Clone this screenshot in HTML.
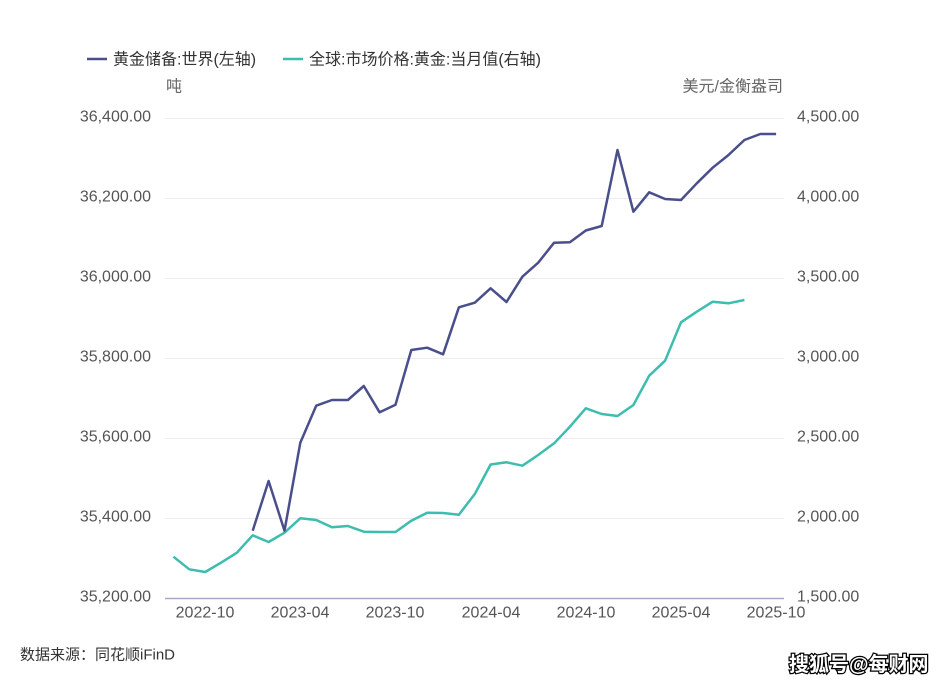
<!DOCTYPE html>
<html><head><meta charset="utf-8"><style>
html,body{margin:0;padding:0;background:#fff;}
svg{display:block;}
text{font-family:"Liberation Sans","Noto Sans CJK SC",sans-serif;}
</style></head><body>
<svg width="939" height="686" viewBox="0 0 939 686" xmlns="http://www.w3.org/2000/svg">
<rect width="939" height="686" fill="#fff"/>
<!-- legend -->
<line x1="87" y1="59" x2="107" y2="59" stroke="#4a4f8c" stroke-width="2.5"/>
<text x="113" y="60" font-size="16" fill="#333" dominant-baseline="central">黄金储备:世界(左轴)</text>
<line x1="283" y1="59" x2="303" y2="59" stroke="#3dbdae" stroke-width="2.5"/>
<text x="309" y="60" font-size="16" fill="#333" dominant-baseline="central">全球:市场价格:黄金:当月值(右轴)</text>
<!-- units -->
<text x="166" y="87" font-size="16" fill="#666" dominant-baseline="central">吨</text>
<text x="783" y="87" font-size="16" fill="#666" text-anchor="end" dominant-baseline="central">美元/金衡盎司</text>
<!-- grid -->
<g stroke="#ebebf0" stroke-width="1">
<line x1="165" y1="118.5" x2="784" y2="118.5"/>
<line x1="165" y1="198.5" x2="784" y2="198.5"/>
<line x1="165" y1="278.5" x2="784" y2="278.5"/>
<line x1="165" y1="358.5" x2="784" y2="358.5"/>
<line x1="165" y1="438.5" x2="784" y2="438.5"/>
<line x1="165" y1="518.5" x2="784" y2="518.5"/>
</g>
<line x1="165" y1="598.5" x2="784" y2="598.5" stroke="#a9a9c6" stroke-width="1.5"/>
<!-- left labels -->
<g font-size="16" fill="#555" text-anchor="end" dominant-baseline="central">
<text x="151" y="117">36,400.00</text>
<text x="151" y="197">36,200.00</text>
<text x="151" y="277">36,000.00</text>
<text x="151" y="357">35,800.00</text>
<text x="151" y="437">35,600.00</text>
<text x="151" y="517">35,400.00</text>
<text x="151" y="597">35,200.00</text>
</g>
<!-- right labels -->
<g font-size="16" fill="#555" dominant-baseline="central">
<text x="797" y="117">4,500.00</text>
<text x="797" y="197">4,000.00</text>
<text x="797" y="277">3,500.00</text>
<text x="797" y="357">3,000.00</text>
<text x="797" y="437">2,500.00</text>
<text x="797" y="517">2,000.00</text>
<text x="797" y="597">1,500.00</text>
</g>
<!-- x labels -->
<g font-size="16" fill="#555" text-anchor="middle" dominant-baseline="central">
<text x="205" y="613">2022-10</text>
<text x="300" y="613">2023-04</text>
<text x="395" y="613">2023-10</text>
<text x="491" y="613">2024-04</text>
<text x="586" y="613">2024-10</text>
<text x="681" y="613">2025-04</text>
<text x="776" y="613">2025-10</text>
</g>
<!-- green series -->
<polyline fill="none" stroke="#3dbdae" stroke-width="2.5" stroke-linejoin="round" points="
173.4,556.7 189.3,569.3 205.2,572 221,562.7 236.9,552.7 252.7,535.3 268.6,542 284.5,532.7 300.3,518.3 316.2,520 332,527.3 347.9,526 363.8,531.7 379.6,532 395.5,532 411.3,520.7 427.2,512.7 443.1,513 458.9,514.7 474.8,494 490.6,464.5 506.5,462.3 522.4,465.7 538.2,455 554.1,443.3 569.9,426.7 585.8,408.3 601.7,414 617.5,416 633.4,405 649.2,375.7 665.1,360.7 681,322.3 696.8,311.7 712.7,301.7 728.5,303.3 744.4,300"/>
<!-- blue series -->
<polyline fill="none" stroke="#4a4f8c" stroke-width="2.5" stroke-linejoin="round" points="
252.7,530.7 268.6,481 284.5,530.7 300.3,442.7 316.2,405.7 332,400 347.9,400 363.8,386 379.6,412.3 395.5,404.7 411.3,350 427.2,347.7 443.1,354.3 458.9,307.3 474.8,302.7 490.6,288.3 506.5,302 522.4,276.7 538.2,262.7 554.1,242.7 569.9,242.3 585.8,230.5 601.7,226 617.5,150 633.4,211.7 649.2,192.3 665.1,199 681,200 696.8,183.3 712.7,167.7 728.5,155 744.4,140 760.3,134 776.1,134"/>
<!-- source -->
<text x="20" y="655" font-size="15" fill="#333" dominant-baseline="central">数据来源：同花顺iFinD</text>
<!-- watermark -->
<text x="789" y="665" font-size="20" font-weight="bold" fill="#fff" stroke="#000" stroke-width="2.5" paint-order="stroke" dominant-baseline="central" font-family="'Noto Sans CJK SC',sans-serif">搜狐号@每财网</text>
</svg>
</body></html>
